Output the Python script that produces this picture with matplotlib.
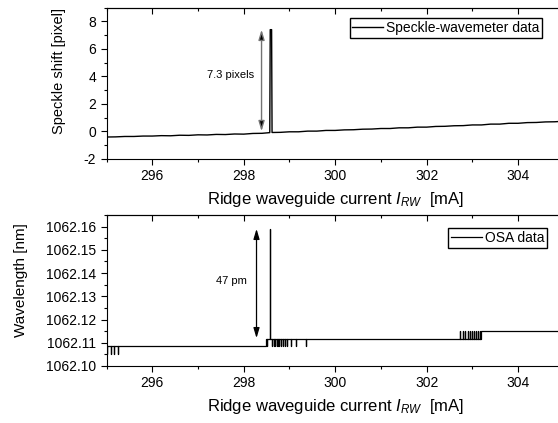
import matplotlib
matplotlib.use('Agg')
import matplotlib.pyplot as plt
from matplotlib.ticker import MultipleLocator, FormatStrFormatter

plt.rcParams['font.family'] = ['Liberation Sans', 'DejaVu Sans']
plt.rcParams['mathtext.fontset'] = 'custom'
plt.rcParams['mathtext.rm'] = 'Liberation Sans'
plt.rcParams['mathtext.it'] = 'Liberation Sans:italic'
plt.rcParams['axes.unicode_minus'] = False

# speckle-wavemeter trace (current in mA, shift in pixel)
speckle_current = [295.0, 295.2, 295.4, 295.6, 295.8, 296.0, 296.2, 296.4, 296.6, 296.8,
                   297.0, 297.2, 297.4, 297.6, 297.8, 298.0, 298.2, 298.4, 298.57, 298.58,
                   298.61, 298.62, 298.8, 299.0, 299.2, 299.4, 299.6, 299.8, 300.0, 300.2,
                   300.4, 300.6, 300.8, 301.0, 301.2, 301.4, 301.6, 301.8, 302.0, 302.2,
                   302.4, 302.6, 302.8, 303.0, 303.2, 303.4, 303.6, 303.8, 304.0, 304.2,
                   304.4, 304.6, 304.8, 305.0]
speckle_shift = [-0.42, -0.41, -0.38, -0.38, -0.35, -0.35, -0.32, -0.33, -0.29, -0.30,
                 -0.26, -0.27, -0.23, -0.24, -0.20, -0.21, -0.16, -0.15, -0.10, 7.40,
                 7.40, -0.09, -0.08, -0.04, -0.04, 0.01, 0.01, 0.06, 0.06, 0.10,
                 0.11, 0.15, 0.16, 0.20, 0.20, 0.25, 0.25, 0.30, 0.30, 0.35,
                 0.36, 0.40, 0.41, 0.46, 0.46, 0.52, 0.52, 0.58, 0.58, 0.63,
                 0.64, 0.68, 0.69, 0.73]

# OSA trace: step levels and short toggles
osa_level_x = [295.0, 298.48, 303.2, 305.0]
osa_levels = [1062.1085, 1062.1117, 1062.1151]
osa_dips_start = [295.02, 295.10, 295.16, 295.25]
osa_dips_start_to = 1062.1050
osa_dips_mid = [298.52, 298.62, 298.66, 298.69, 298.72, 298.75, 298.78, 298.82,
                298.86, 298.90, 298.95, 299.03, 299.14, 299.37]
osa_dips_end = [302.68, 302.74, 302.80, 302.85, 302.90, 302.95, 303.0, 303.04,
                303.08, 303.12, 303.16]
osa_spike_x = 298.57
osa_spike_y = 1062.159


def level_at(x):
    for i in range(len(osa_levels)):
        if osa_level_x[i] <= x < osa_level_x[i + 1]:
            return osa_levels[i]
    return osa_levels[-1]


def build_osa():
    events = []
    for x in osa_dips_start:
        events.append((x, osa_dips_start_to))
    for x in osa_dips_mid:
        events.append((x, osa_levels[0]))
    for x in osa_dips_end:
        events.append((x, osa_levels[2] if x > osa_dips_end[0] else osa_levels[1]))
    events.append((osa_spike_x, osa_spike_y))
    events.sort()
    # merge toggles into the step curve
    pts = []
    for i in range(len(osa_levels)):
        pts.append((osa_level_x[i], osa_levels[i]))
        seg = [e for e in events if osa_level_x[i] <= e[0] < osa_level_x[i + 1]]
        for x, y in seg:
            base = level_at(x)
            pts += [(x, base), (x, y), (x, base)]
        pts.append((osa_level_x[i + 1], osa_levels[i]))
    return [p[0] for p in pts], [p[1] for p in pts]


def style_axes(ax, xmajor, ymajor):
    ax.xaxis.set_major_locator(MultipleLocator(xmajor))
    ax.xaxis.set_minor_locator(MultipleLocator(xmajor / 2))
    ax.yaxis.set_major_locator(MultipleLocator(ymajor))
    ax.yaxis.set_minor_locator(MultipleLocator(ymajor / 2))
    ax.tick_params(which='major', direction='out', length=4.5, width=0.8, labelsize=10, pad=3)
    ax.tick_params(which='minor', direction='out', length=2.5, width=0.8)
    for s in ax.spines.values():
        s.set_linewidth(0.8)
    top = ax.secondary_xaxis('top')
    top.xaxis.set_major_locator(MultipleLocator(xmajor))
    top.xaxis.set_minor_locator(MultipleLocator(xmajor / 2))
    top.tick_params(which='major', direction='in', length=4.5, width=0.8, labeltop=False)
    top.tick_params(which='minor', direction='in', length=2.5, width=0.8)
    right = ax.secondary_yaxis('right')
    right.yaxis.set_major_locator(MultipleLocator(ymajor))
    right.yaxis.set_minor_locator(MultipleLocator(ymajor / 2))
    right.tick_params(which='major', direction='in', length=4.5, width=0.8, labelright=False)
    right.tick_params(which='minor', direction='in', length=2.5, width=0.8)


fig = plt.figure(figsize=(5.58, 4.23), dpi=100)
ax1 = fig.add_axes([0.1909, 0.6248, 0.8195, 0.357])
ax2 = fig.add_axes([0.1909, 0.1348, 0.8195, 0.357])

xlabel = r'Ridge waveguide current $I_{RW}$  [mA]'

# top panel
ax1.plot(speckle_current, speckle_shift, color='black', lw=1.0, label='Speckle-wavemeter data')
ax1.set_xlim(295, 305)
ax1.set_ylim(-2, 9)
style_axes(ax1, 2, 2)
ax1.set_xlabel(xlabel, fontsize=12, labelpad=5)
ax1.set_ylabel('Speckle shift [pixel]', fontsize=10.5)
ax1.yaxis.set_label_coords(-0.089, 0.58)
ax1.annotate('', xy=(298.39, 7.4), xytext=(298.39, 0.0),
             arrowprops=dict(arrowstyle='<|-|>,head_length=0.6,head_width=0.18',
                             fc='black', ec='0.45', lw=1, shrinkA=0, shrinkB=0))
ax1.text(297.72, 4.1, '7.3 pixels', fontsize=8, ha='center', va='center')
ax1.legend(loc='upper right', bbox_to_anchor=(0.952, 0.932), fontsize=10,
           frameon=True, fancybox=False, edgecolor='black', framealpha=1,
           handlelength=2.2, handletextpad=0.2, borderpad=0.2, borderaxespad=0)

# bottom panel
osa_x, osa_y = build_osa()
ax2.plot(osa_x, osa_y, color='black', lw=0.9, label='OSA data')
ax2.set_xlim(295, 305)
ax2.set_ylim(1062.10, 1062.165)
style_axes(ax2, 2, 0.01)
ax2.yaxis.set_major_formatter(FormatStrFormatter('%.2f'))
ax2.set_xlabel(xlabel, fontsize=12, labelpad=5)
ax2.set_ylabel('Wavelength [nm]', fontsize=11)
ax2.yaxis.set_label_coords(-0.172, 0.566)
ax2.annotate('', xy=(298.28, 1062.159), xytext=(298.28, 1062.112),
             arrowprops=dict(arrowstyle='<|-|>,head_length=0.6,head_width=0.18',
                             fc='black', ec='black', lw=0.9, shrinkA=0, shrinkB=0))
ax2.text(297.74, 1062.1365, '47 pm', fontsize=8, ha='center', va='center')
ax2.legend(loc='upper right', bbox_to_anchor=(0.963, 0.912), fontsize=10,
           frameon=True, fancybox=False, edgecolor='black', framealpha=1,
           handlelength=2.2, handletextpad=0.2, borderpad=0.2, borderaxespad=0)

fig.savefig('out.png', dpi=100)
